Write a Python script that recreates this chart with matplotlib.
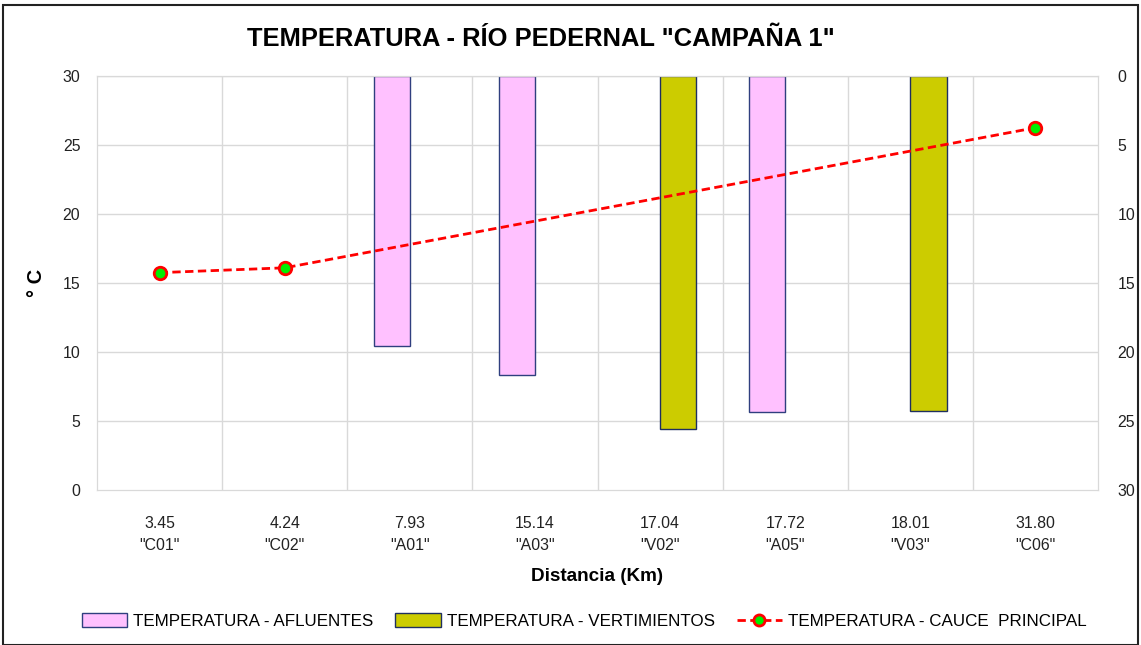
import matplotlib
matplotlib.use("Agg")
import matplotlib.pyplot as plt
import numpy as np
from matplotlib.patches import Rectangle
from matplotlib.lines import Line2D

plt.rcParams['font.family'] = ['Liberation Sans', 'DejaVu Sans']
k = 0.88  # scale to mimic narrow text width

distances = ["3.45", "4.24", "7.93", "15.14", "17.04", "17.72", "18.01", "31.80"]
stations = ['"C01"', '"C02"', '"A01"', '"A03"', '"V02"', '"A05"', '"V03"', '"C06"']
afluentes = [np.nan, np.nan, 19.6, 21.65, np.nan, 24.35, np.nan, np.nan]
vertimientos = [np.nan, np.nan, np.nan, np.nan, 25.6, np.nan, 24.3, np.nan]
cauce = [15.75, 16.1, np.nan, np.nan, np.nan, np.nan, np.nan, 26.25]

fig = plt.figure(figsize=(11.41, 6.45), dpi=100)
ax = fig.add_axes([97/1141, 1-490/645, 1001/1141, 414/645])
ax2 = ax.twinx()
ax2.set_zorder(1)
ax.set_zorder(2)
ax.patch.set_visible(False)

x = np.arange(len(distances))
labels = [f"{d}\n{s}" for d, s in zip(distances, stations)]

ax.set_xlim(-0.5, len(x)-0.5)
ax.set_ylim(0, 30)
ax.set_yticks(range(0, 31, 5))
ax2.set_ylim(30, 0)
ax2.set_yticks(range(0, 31, 5))

grid_c = '#d9d9d9'
for yy in range(0, 30, 5):
    ax2.axhline(yy, color=grid_c, lw=1, zorder=0)
for xx in np.arange(0.5, len(x)-0.5, 1):
    ax2.axvline(xx, color=grid_c, lw=1, zorder=0)

bw = 0.29
ax2.bar(x - bw/2, afluentes, width=bw, color='#ffc1ff', edgecolor='#2f3f7f', lw=1, zorder=2)
ax2.bar(x + bw/2, vertimientos, width=bw, color='#cccc00', edgecolor='#1f2f5f', lw=1, zorder=2)

cauce_arr = np.array(cauce)
m = ~np.isnan(cauce_arr)
ax.plot(x[m], cauce_arr[m], color='#ff0000', ls=(0, (3, 1.6)), lw=2, marker='o',
        markersize=9, markerfacecolor='#00ee00', markeredgecolor='#ff0000', markeredgewidth=2, zorder=3)

for a in (ax, ax2):
    for s in a.spines.values():
        s.set_color(grid_c)
    a.tick_params(length=0, labelsize=13*k, colors='#222222')
ax.tick_params(axis='y', pad=12)
ax2.tick_params(axis='y', pad=14)
ax.set_xticks(x)
ax.set_xticklabels(labels, fontsize=13*k, linespacing=1.55)
ax.tick_params(axis='x', pad=19)

ax.set_xlabel("Distancia (Km)", fontsize=15.5*k, fontweight='bold', labelpad=11)
ax.set_ylabel("° C", fontsize=16.5*k, fontweight='bold', labelpad=12)

fig.text(0.474, 1-39/645, 'TEMPERATURA - RÍO PEDERNAL "CAMPAÑA 1"', fontsize=18.4,
         fontweight='bold', ha='center', va='center')

handles = [
    Rectangle((0, 0), 1, 1, facecolor='#ffc1ff', edgecolor='#2f3f7f'),
    Rectangle((0, 0), 1, 1, facecolor='#cccc00', edgecolor='#1f2f5f'),
    Line2D([], [], color='#ff0000', ls=(0, (3, 1.6)), lw=2, marker='o', markersize=8,
           markerfacecolor='#00ee00', markeredgecolor='#ff0000', markeredgewidth=2),
]
names = ["TEMPERATURA - AFLUENTES", "TEMPERATURA - VERTIMIENTOS", "TEMPERATURA - CAUCE  PRINCIPAL"]
fig.legend(handles, names, loc='center', bbox_to_anchor=(0.512, 1-621/645), ncol=3,
           frameon=False, fontsize=12.25, handlelength=2.65, handleheight=0.85, columnspacing=1.3,
           handletextpad=0.35)

fig.add_artist(Rectangle((3/1141, 0), 1-6/1141, 1-5/645, transform=fig.transFigure,
                         fill=False, edgecolor='#222222', lw=1.5))

fig.savefig("out.png", dpi=100)
